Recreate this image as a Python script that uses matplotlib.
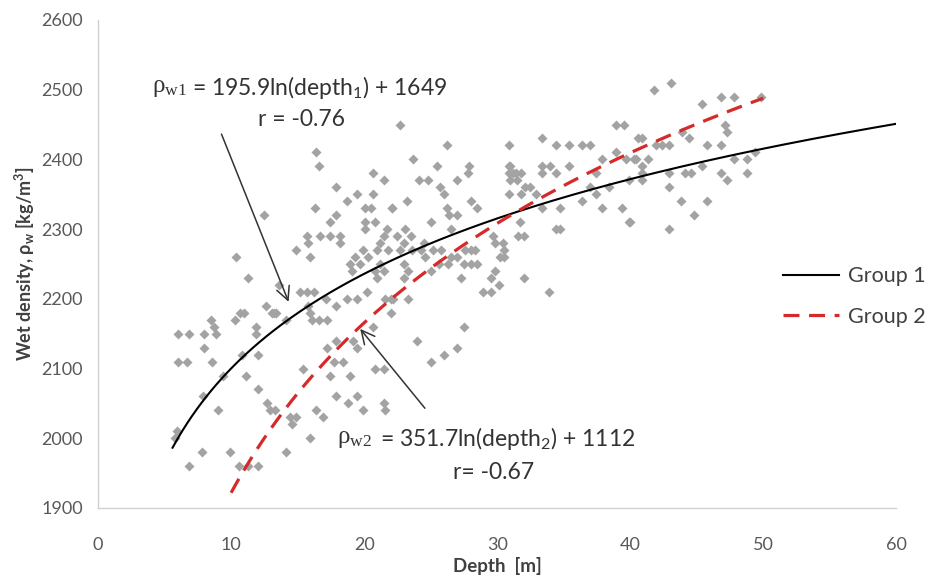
import numpy as np
import matplotlib.pyplot as plt

# scatter data: depth [m], wet density [kg/m3]
depth = [
    12.5, 10.4, 11.3, 13.6, 12.6, 13.2, 13.4, 10.7, 11.0, 10.3, 8.5, 8.7, 8.9,
    6.0, 6.8, 8.0, 11.9, 11.9, 8.0, 6.0, 6.7, 8.6, 10.8, 12.0, 9.4, 11.1,
    7.9, 12.0, 9.0, 12.7, 12.9, 5.9, 5.8, 7.8, 9.9, 6.8, 10.6, 11.3, 12.0,
    16.4, 16.6, 17.9, 20.7, 21.5, 19.5, 18.7, 16.3, 17.9, 20.1, 20.5, 22.1,
    20.7, 17.4, 20.1, 20.1, 20.8, 21.7, 15.7, 16.7, 17.4, 18.2, 15.8, 18.2,
    21.5, 21.2, 14.9, 15.9, 19.3, 20.3, 19.9, 21.0, 18.9, 19.7, 21.2, 21.8,
    21.5, 20.8, 19.1, 21.0, 15.2, 15.7, 16.2, 13.1, 14.1, 15.8, 15.9, 16.1,
    16.6, 17.1, 17.9, 18.7, 19.5, 20.2, 17.2, 20.7, 22.0, 22.0, 21.6, 19.2,
    17.9, 19.5, 17.2, 17.7, 18.4, 15.4, 17.4, 18.9, 20.8, 21.5, 17.9, 19.5,
    18.8, 21.5, 16.4, 19.9, 14.4, 14.9, 16.9, 14.6, 13.3, 21.6, 15.9, 14.1,
    22.7, 26.2, 30.9, 23.7, 25.5, 27.9, 27.8, 24.1, 24.8, 27.0, 30.9, 30.9,
    31.4, 25.7, 26.0, 28.0, 28.5, 30.9, 22.1, 23.2, 26.2, 26.4, 27.0, 25.0,
    26.5, 23.1, 23.5, 22.5, 23.0, 24.5, 25.2, 24.3, 24.6, 23.6, 22.7, 23.0,
    23.3, 23.0, 25.8, 26.5, 27.0, 25.6, 26.3, 27.6, 28.0, 28.3, 27.5, 28.0,
    28.5, 29.7, 29.8, 30.5, 30.2, 29.8, 29.5, 30.1, 28.9, 29.5, 27.3, 25.0,
    22.2, 23.3, 27.5, 24.0, 27.0, 26.0, 25.0,
    38.9, 39.5, 33.4, 34.4, 35.4, 36.4, 37.0, 40.6, 37.9, 39.7, 40.3, 38.9,
    31.0, 31.2, 31.8, 31.5, 33.4, 34.0, 33.4, 34.4, 35.4, 37.4, 31.0, 32.1,
    32.5, 37.0, 38.4, 39.9, 31.8, 32.9, 37.4, 36.4, 33.4, 34.7, 37.9, 39.4,
    39.9, 31.7, 31.6, 32.0, 34.4, 34.7, 32.0, 33.9, 30.4, 30.5,
    43.1, 41.8, 46.8, 47.8, 49.8, 45.4, 47.1, 47.3, 43.9, 44.4, 40.9, 41.9,
    42.4, 42.9, 45.8, 46.8, 40.4, 41.3, 47.8, 48.8, 40.9, 45.4, 40.9, 42.9,
    44.6, 46.8, 48.8, 40.9, 47.3, 42.9, 43.8, 45.8, 44.8, 42.9, 40.0, 49.4,
    44.1,
]
density = [
    2320, 2260, 2230, 2220, 2190, 2180, 2180, 2180, 2180, 2170, 2170, 2160, 2150,
    2150, 2150, 2150, 2160, 2150, 2130, 2110, 2110, 2110, 2120, 2120, 2090, 2090,
    2060, 2070, 2040, 2050, 2040, 2010, 2000, 1980, 1980, 1960, 1960, 1960, 1960,
    2410, 2390, 2360, 2380, 2370, 2350, 2340, 2330, 2320, 2330, 2330, 2330,
    2350, 2310, 2310, 2300, 2310, 2300, 2290, 2290, 2290, 2290, 2280, 2280,
    2290, 2280, 2270, 2260, 2260, 2260, 2270, 2270, 2250, 2250, 2250, 2270,
    2240, 2240, 2240, 2230, 2210, 2210, 2210, 2180, 2170, 2190, 2180, 2170,
    2170, 2200, 2190, 2200, 2200, 2210, 2170, 2160, 2200, 2180, 2200, 2140,
    2140, 2130, 2130, 2110, 2110, 2100, 2090, 2090, 2100, 2100, 2060, 2060,
    2050, 2050, 2040, 2040, 2030, 2030, 2030, 2020, 2040, 2040, 2000, 1980,
    2450, 2420, 2420, 2400, 2390, 2390, 2380, 2370, 2370, 2370, 2390, 2380,
    2380, 2360, 2350, 2340, 2330, 2350, 2330, 2340, 2330, 2320, 2320, 2310,
    2300, 2300, 2290, 2290, 2280, 2280, 2270, 2270, 2260, 2270, 2270, 2250,
    2240, 2230, 2270, 2260, 2260, 2250, 2250, 2270, 2270, 2270, 2250, 2250,
    2250, 2290, 2280, 2270, 2260, 2240, 2230, 2220, 2210, 2210, 2230, 2240,
    2200, 2200, 2160, 2140, 2130, 2120, 2110,
    2450, 2450, 2430, 2420, 2420, 2420, 2420, 2430, 2400, 2400, 2400, 2410,
    2390, 2380, 2380, 2370, 2390, 2390, 2380, 2380, 2390, 2380, 2370, 2360,
    2360, 2360, 2360, 2370, 2350, 2350, 2350, 2340, 2330, 2330, 2330, 2330,
    2310, 2310, 2290, 2290, 2300, 2300, 2230, 2210, 2280, 2260,
    2510, 2500, 2490, 2490, 2490, 2480, 2450, 2440, 2440, 2430, 2430, 2420,
    2420, 2420, 2420, 2420, 2400, 2400, 2400, 2400, 2390, 2390, 2380, 2380,
    2380, 2380, 2380, 2370, 2370, 2360, 2340, 2340, 2320, 2300, 2310, 2410,
    2380,
]

# logarithmic trendlines printed on the chart: a*ln(depth) + b
groups = ["Group 1", "Group 2"]
coef_a = [195.9, 351.7]
coef_b = [1649, 1112]
depth_start = [5.6, 10.0]
depth_end = [60.0, 50.0]

plt.rcParams['font.family'] = ['Lato', 'DejaVu Sans']

fig = plt.figure(figsize=(9.25, 5.87), dpi=100)
ax = fig.add_axes([0.106, 0.1346, 0.863, 0.8314])

ax.scatter(depth, density, marker='D', s=26, color='#a3a3a3', linewidths=0, zorder=2)

styles = [dict(color='black', lw=1.5, ls='-'),
          dict(color='#d42a2a', lw=2.3, ls=(0, (5, 3)))]
handles = []
for i in range(2):
    xs = np.linspace(depth_start[i], depth_end[i], 300)
    ln, = ax.plot(xs, coef_a[i] * np.log(xs) + coef_b[i], label=groups[i],
                  zorder=3, **styles[i])
    handles.append(ln)

ax.set_xlim(0, 60)
ax.set_ylim(1900, 2600)
ax.set_xticks(range(0, 61, 10))
ax.set_yticks(range(1900, 2601, 100))
ax.tick_params(length=0, labelsize=13, colors='#595959')
ax.tick_params(axis='x', pad=21)
ax.tick_params(axis='y', pad=11)
for s in ['top', 'right']:
    ax.spines[s].set_visible(False)
for s in ['left', 'bottom']:
    ax.spines[s].set_color('#d0d0d0')
    ax.spines[s].set_linewidth(1.0)

ax.set_xlabel('Depth  [m]', fontsize=13.5, fontweight='bold', color='#404040', labelpad=3)
ax.set_ylabel(r'Wet density, ρ$\mathregular{_w}$ [kg/m$\mathregular{^3}$]', fontsize=13,
              fontweight='bold', color='#404040', labelpad=3)

tcol = '#333333'
serif = ['Liberation Serif', 'DejaVu Serif']
ax.text(4.06, 2503, r'ρ$\mathregular{_{w1}}$', fontsize=18, color=tcol, va='center',
        family=serif)
ax.text(7.07, 2503, r'= 195.9ln(depth$\mathregular{_1}$) + 1649', fontsize=16.5,
        color=tcol, va='center')
ax.text(15.3, 2457, 'r = -0.76', fontsize=16.5, color=tcol, va='center', ha='center')
ax.text(17.97, 1999, r'ρ$\mathregular{_{w2}}$', fontsize=18, color=tcol, va='center',
        family=serif)
ax.text(21.2, 1999, r'= 351.7ln(depth$\mathregular{_2}$) + 1112', fontsize=16.5,
        color=tcol, va='center')
ax.text(26.7, 1951, 'r= -0.67', fontsize=16.5, color=tcol, va='center')

arrow = dict(arrowstyle='->', color='#333333', lw=1.1, mutation_scale=24)
ax.annotate('', xy=(14.4, 2192), xytext=(9.2, 2440), arrowprops=arrow)
ax.annotate('', xy=(19.57, 2160), xytext=(24.7, 2040), arrowprops=arrow)

fig.legend(handles=handles, loc='upper left', bbox_to_anchor=(0.835, 0.565),
           frameon=False, fontsize=15.5, handlelength=2.6, handletextpad=0.4,
           labelspacing=0.95, borderpad=0, labelcolor='#404040')

fig.savefig('out.png', dpi=100)
